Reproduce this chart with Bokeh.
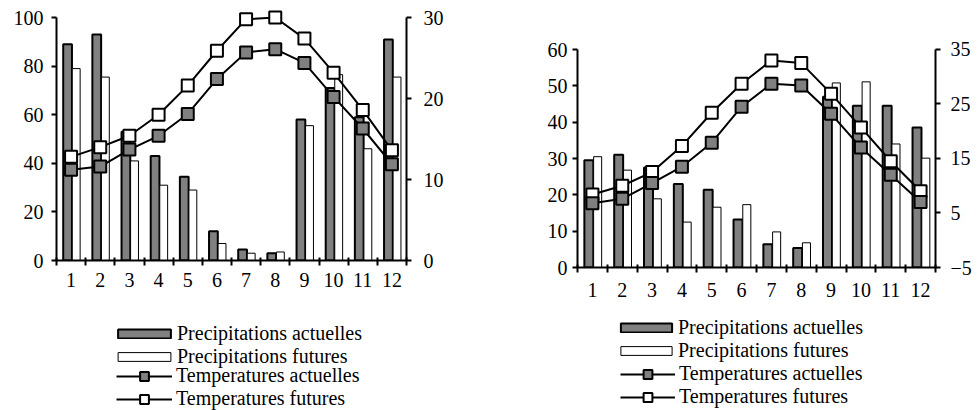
from bokeh.plotting import figure
from bokeh.models import (Range1d, LinearAxis, FixedTicker, Legend, LegendItem,
                          ColumnDataSource)
from bokeh.transform import dodge
from bokeh.layouts import row, column
from bokeh.embed import file_html
from bokeh.resources import INLINE

# ---------------- data ----------------
months = [1, 2, 3, 4, 5, 6, 7, 8, 9, 10, 11, 12]

# left chart
a_precip_now = [89, 93, 53, 43, 34.5, 12, 4.5, 3, 58, 71, 59, 91]
a_precip_fut = [79, 75.5, 41, 31, 29, 7, 3, 3.5, 55.5, 76.5, 46, 75.5]
a_temp_now = [11.2, 11.6, 13.7, 15.4, 18.1, 22.4, 25.7, 26.1, 24.4, 20.2, 16.3, 11.9]
a_temp_fut = [12.8, 14.0, 15.4, 18.0, 21.6, 25.9, 29.8, 30.0, 27.4, 23.2, 18.6, 13.6]
a_precip_ticks = [0, 20, 40, 60, 80, 100]
a_temp_ticks = [0, 10, 20, 30]

# right chart
b_precip_now = [29.5, 31, 27.5, 23, 21.4, 13.2, 6.4, 5.4, 47, 44.5, 44.5, 38.5]
b_precip_fut = [30.5, 26.8, 18.9, 12.5, 16.6, 17.3, 9.8, 6.8, 50.8, 51.1, 34, 30.1]
b_temp_now = [6.8, 7.6, 10.5, 13.5, 17.9, 24.5, 28.7, 28.4, 23.2, 17, 12, 7]
b_temp_fut = [8.4, 10, 12.5, 17.3, 23.4, 28.7, 33, 32.5, 26.9, 20.7, 14.5, 9]
b_precip_ticks = [0, 10, 20, 30, 40, 50, 60]
b_temp_ticks = [-5, 5, 15, 25, 35]

labels = ["Precipitations actuelles", "Precipitations futures",
          "Temperatures actuelles", "Temperatures futures"]

FONT = "Liberation Serif"
GRAY = "#808080"
BAR_NOW = dict(fill_color=GRAY, line_color="black", line_width=2)
BAR_FUT = dict(fill_color="white", line_color="black", line_width=1)
LINE = dict(line_color="black", line_width=2)
MK_NOW = dict(marker="square", size=12, fill_color=GRAY, line_color="black", line_width=2)
MK_FUT = dict(marker="square", size=12, fill_color="white", line_color="black", line_width=2)


def style_axis(ax, standoff):
    ax.axis_line_color = "black"
    ax.axis_line_width = 2
    ax.major_tick_line_color = "black"
    ax.major_tick_line_width = 2
    ax.major_tick_in = 0
    ax.major_tick_out = 5
    ax.minor_tick_line_color = None
    ax.major_label_text_font = FONT
    ax.major_label_text_font_size = "20px"
    ax.major_label_text_color = "black"
    ax.major_label_standoff = standoff


def make_chart(src, y_rng, y_bounds, y_ticks, t_rng, t_bounds, t_ticks,
               width, borders, stand):
    p = figure(width=width, height=305, output_backend="svg", toolbar_location=None,
               x_range=Range1d(0.5, 12.5), y_range=Range1d(*y_rng))
    p.min_border_left, p.min_border_right, p.min_border_top, p.min_border_bottom = borders
    p.extra_y_ranges = {"temp": Range1d(*t_rng)}
    p.xgrid.visible = False
    p.ygrid.visible = False
    p.outline_line_color = None
    p.background_fill_color = "white"
    p.border_fill_color = "white"

    xa = p.xaxis[0]
    xa.ticker = FixedTicker(ticks=months,
                            minor_ticks=[m - 0.5 for m in months] + [months[-1] + 0.5])
    style_axis(xa, stand[0])
    xa.major_tick_line_color = None
    xa.minor_tick_line_color = "black"
    xa.minor_tick_line_width = 2
    xa.minor_tick_in = 3
    xa.minor_tick_out = 5

    ya = p.yaxis[0]
    ya.ticker = FixedTicker(ticks=y_ticks)
    ya.bounds = y_bounds
    style_axis(ya, stand[1])

    ra = LinearAxis(y_range_name="temp", ticker=FixedTicker(ticks=t_ticks), bounds=t_bounds)
    style_axis(ra, stand[2])
    p.add_layout(ra, "right")

    p.vbar(x=dodge("month", -0.12), top="pn", width=0.30, source=src, **BAR_NOW)
    p.vbar(x=dodge("month", 0.175), top="pf", width=0.27, source=src, **BAR_FUT)
    p.line(x="month", y="tf", source=src, y_range_name="temp", **LINE)
    p.scatter(x="month", y="tf", source=src, y_range_name="temp", **MK_FUT)
    p.line(x="month", y="tn", source=src, y_range_name="temp", **LINE)
    p.scatter(x="month", y="tn", source=src, y_range_name="temp", **MK_NOW)
    return p


def make_legend(src, width, leg):
    # legend panel: its renderers only supply legend swatches, they are not drawn
    q = figure(width=width, height=105, output_backend="svg", toolbar_location=None,
               x_axis_type=None, y_axis_type=None,
               x_range=Range1d(1000, 1001), y_range=Range1d(1000, 1001), min_border=0)
    q.xgrid.visible = False
    q.ygrid.visible = False
    q.outline_line_color = None
    r_pn = q.vbar(x="month", top="pn", width=0.3, source=src, visible=False, **BAR_NOW)
    r_pf = q.vbar(x="month", top="pf", width=0.3, source=src, visible=False, **BAR_FUT)
    l_tn = q.line(x="month", y="tn", source=src, visible=False, **LINE)
    s_tn = q.scatter(x="month", y="tn", source=src, visible=False, **MK_NOW)
    l_tf = q.line(x="month", y="tf", source=src, visible=False, **LINE)
    s_tf = q.scatter(x="month", y="tf", source=src, visible=False, **MK_FUT)
    (bx, by, bw), (lx, ly, lw) = leg
    common = dict(background_fill_alpha=0, border_line_color=None, padding=0, margin=0,
                  spacing=0, label_text_font=FONT, label_text_font_size="20px",
                  label_text_color="black", label_height=22,
                  inactive_fill_alpha=0, click_policy="none")
    leg1 = Legend(items=[LegendItem(label=labels[0], renderers=[r_pn]),
                         LegendItem(label=labels[1], renderers=[r_pf])],
                  location=(bx, by), glyph_width=bw, glyph_height=11, label_standoff=0,
                  **common)
    leg2 = Legend(items=[LegendItem(label=labels[2], renderers=[l_tn, s_tn]),
                         LegendItem(label=labels[3], renderers=[l_tf, s_tf])],
                  location=(lx, ly), glyph_width=lw, glyph_height=22, label_standoff=4,
                  **common)
    q.add_layout(leg1)
    q.add_layout(leg2)
    return q


src_a = ColumnDataSource(dict(month=months, pn=a_precip_now, pf=a_precip_fut,
                              tn=a_temp_now, tf=a_temp_fut))
src_b = ColumnDataSource(dict(month=months, pn=b_precip_now, pf=b_precip_fut,
                              tn=b_temp_now, tf=b_temp_fut))

p1 = make_chart(src_a, (0, 106.2), (0, 100), a_precip_ticks, (0, 31.86), (0, 30), a_temp_ticks,
                520, (56, 114, 2, 45), (7, 8, 12))
p2 = make_chart(src_b, (0, 72.94), (0, 60), b_precip_ticks, (-5, 43.62), (-5, 35), b_temp_ticks,
                454, (57, 36, 2, 38), (10, 5, 10))
q1 = make_legend(src_a, 520, ((55, 42, 66), (60, 0, 56)))
q2 = make_legend(src_b, 454, ((37, 48, 64), (43, 2, 55)))

layout = row(column(p1, q1), column(p2, q2))
open("out.html", "w").write(file_html(layout, INLINE))
